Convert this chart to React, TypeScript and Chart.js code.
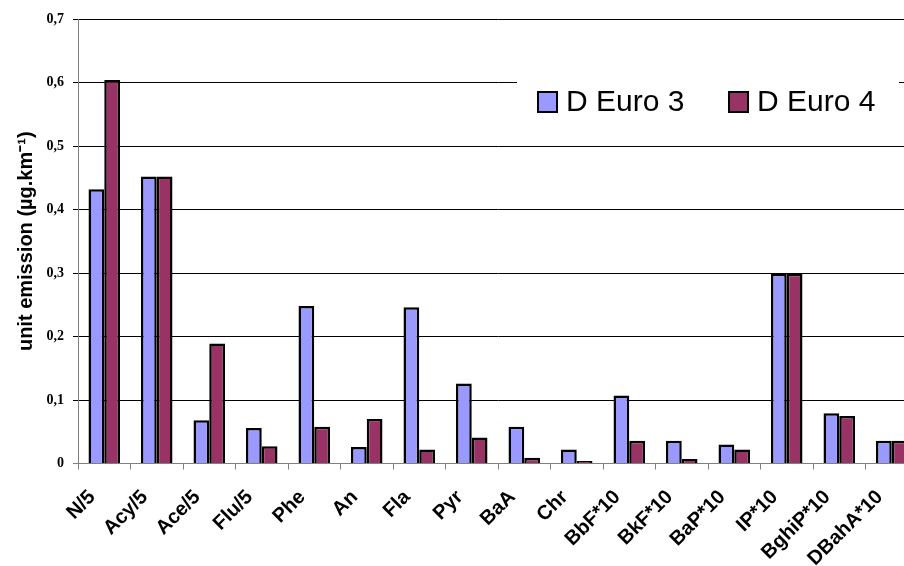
import React, { useEffect, useRef } from "react";
import { Chart, registerables } from "chart.js";

Chart.register(...registerables);

const categories = [
  "N/5", "Acy/5", "Ace/5", "Flu/5", "Phe", "An", "Fla", "Pyr",
  "BaA", "Chr", "BbF*10", "BkF*10", "BaP*10", "IP*10", "BghiP*10", "DBahA*10",
];
const euro3 = [0.432, 0.452, 0.068, 0.056, 0.248, 0.026, 0.246, 0.126, 0.058, 0.022, 0.107, 0.036, 0.030, 0.299, 0.079, 0.036];
const euro4 = [0.604, 0.452, 0.189, 0.027, 0.058, 0.070, 0.022, 0.041, 0.009, 0.004, 0.036, 0.007, 0.022, 0.299, 0.075, 0.036];
const seriesNames = ["D Euro 3", "D Euro 4"];
const seriesColors = ["#9999FF", "#993366"];
const yTitle = "unit emission (µg.km⁻¹)";

const legendPlugin = {
  id: "boxLegend",
  afterDraw(chart: any) {
    const ctx = chart.ctx;
    ctx.save();
    ctx.fillStyle = "#ffffff";
    ctx.fillRect(517, 66, 382, 72);
    ctx.font = "30px 'Liberation Sans', Arial, sans-serif";
    ctx.textBaseline = "middle";
    ctx.textAlign = "left";
    const starts = [538, 729];
    chart.data.datasets.forEach((ds: any, i: number) => {
      const x = starts[i];
      const y = 92;
      ctx.fillStyle = ds.backgroundColor;
      ctx.fillRect(x, y, 19, 20);
      ctx.lineWidth = 2;
      ctx.strokeStyle = "#000";
      ctx.strokeRect(x, y, 19, 20);
      ctx.fillStyle = "#000";
      ctx.fillText(ds.label, x + 28, y + 11);
    });
    ctx.restore();
  },
};

export default function App() {
  const ref = useRef<HTMLCanvasElement>(null);
  useEffect(() => {
    if (!ref.current) return;
    const chart = new Chart(ref.current, {
      type: "bar",
      data: {
        labels: categories,
        datasets: [
          { label: seriesNames[0], data: euro3, backgroundColor: seriesColors[0], borderColor: "#000", borderWidth: 2.5 },
          { label: seriesNames[1], data: euro4, backgroundColor: seriesColors[1], borderColor: "#000", borderWidth: 2.5 },
        ],
      },
      options: {
        responsive: false,
        animation: false,
        layout: { padding: { top: 19, left: 0, right: 0, bottom: 0 } },
        plugins: { legend: { display: false }, tooltip: { enabled: false } },
        datasets: { bar: { categoryPercentage: 0.6, barPercentage: 1 } },
        scales: {
          x: {
            grid: { display: true, drawOnChartArea: false, offset: true, tickLength: 6, color: "#808080" },
            border: { display: true, color: "#808080", width: 1 },
            ticks: {
              autoSkip: false,
              minRotation: 45,
              maxRotation: 45,
              padding: 16,
              labelOffset: -12,
              color: "#000",
              font: { family: "'Liberation Sans', Arial, sans-serif", size: 20, weight: "bold" },
            },
            afterFit(scale: any) {
              scale.height = 102.5;
              scale.paddingLeft = 0;
              scale.paddingRight = 0;
            },
          },
          y: {
            min: 0,
            max: 0.7,
            grid: {
              color: (c: any) => (c.tick && c.tick.value === 0 ? "#808080" : "#000"),
              tickLength: 5,
              lineWidth: 1,
            },
            border: { display: true, color: "#808080", width: 1 },
            ticks: {
              stepSize: 0.1,
              padding: 9,
              color: "#000",
              font: { family: "'Liberation Serif', 'Times New Roman', serif", size: 14, weight: "bold" },
              callback: (v: any) => (Number(v) === 0 ? "0" : Number(v).toFixed(1).replace(".", ",")),
            },
            title: {
              display: true,
              text: yTitle,
              color: "#000",
              padding: { top: 14, bottom: 0 },
              font: { family: "'Liberation Sans', Arial, sans-serif", size: 20, weight: "bold" },
            },
            afterFit(scale: any) {
              scale.width = 78;
              scale.paddingTop = 0;
              scale.paddingBottom = 0;
            },
          },
        },
      },
      plugins: [legendPlugin],
    });
    return () => chart.destroy();
  }, []);
  return (
    <div style={{ position: "absolute", left: 0, top: 0, width: 904, height: 566, overflow: "hidden", background: "#fff" }}>
      <canvas ref={ref} width={918} height={566} style={{ display: "block" }} />
    </div>
  );
}
